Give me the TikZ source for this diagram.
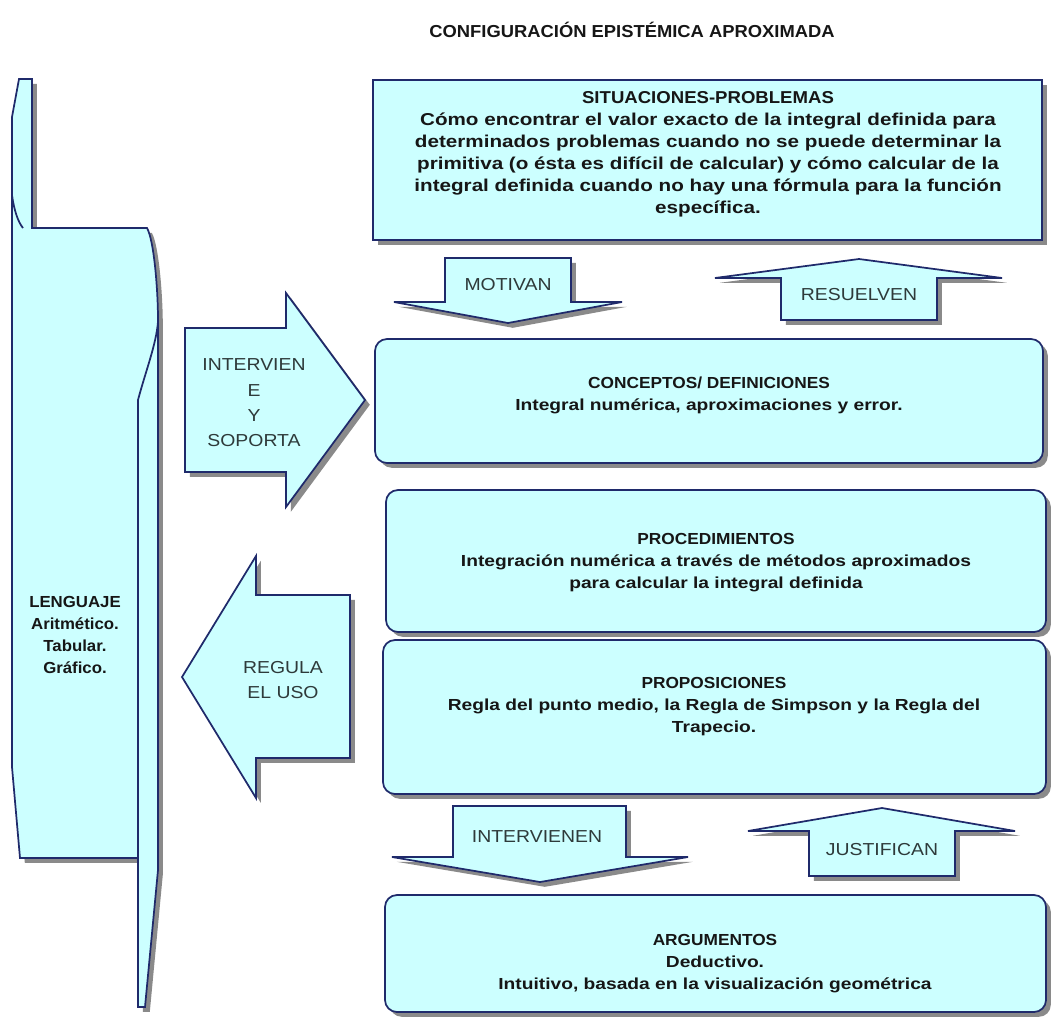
\documentclass[tikz,border=0pt]{standalone}
\usepackage{fontspec}
\setmainfont{Liberation Sans}
\newfontfamily\boxfont[FakeStretch=1.2]{Liberation Sans}
\newfontfamily\headfont[FakeStretch=1.08]{Liberation Sans}
\newfontfamily\sidefont[FakeStretch=1.05]{Liberation Sans}
\newfontfamily\titlefont[FakeStretch=1.06]{Liberation Sans}
\newfontfamily\labelfont[FakeStretch=1.12]{Liberation Sans}
\usetikzlibrary{shadows}

\definecolor{paleaqua}{HTML}{CCFFFF}
\definecolor{navyline}{HTML}{1F2A6B}
\definecolor{shade}{HTML}{8A8A8A}
\definecolor{labeltext}{HTML}{2E3A3A}
\definecolor{bodytext}{HTML}{161616}

% section headings inside the boxes
\newcommand{\boxhead}[1]{{\headfont\bfseries #1}}

\tikzset{
  shaded/.style={drop shadow={shadow xshift=3.6pt, shadow yshift=-3.6pt, fill=shade, opacity=1}},
  shapefill/.style={fill=paleaqua, draw=navyline, line width=1.3pt, line join=miter, shaded},
  sqbox/.style={shapefill, rectangle, inner sep=0pt},
  rbox/.style={shapefill, rectangle, rounded corners=9pt, inner sep=0pt},
  boxtext/.style={align=center, text=bodytext, inner sep=0pt,
    font=\boxfont\bfseries\fontsize{12}{16.5}\selectfont},
  bigboxtext/.style={boxtext, font=\boxfont\bfseries\fontsize{12.9}{16.5}\selectfont},
  sidetext/.style={align=center, text=bodytext, inner sep=0pt,
    font=\sidefont\bfseries\fontsize{12}{16.5}\selectfont},
  arrowtext/.style={align=center, text=labeltext, inner sep=0pt,
    font=\labelfont\fontsize{13}{19}\selectfont},
  titletext/.style={text=bodytext, inner sep=0pt,
    font=\titlefont\bfseries\fontsize{13}{15}\selectfont},
}

\begin{document}
\begin{tikzpicture}[x=0.75pt, y=-0.75pt]
\useasboundingbox (0,0) rectangle (1052,1026);

% title
\node[titletext] (title) at (632,30) {CONFIGURACIÓN EPISTÉMICA APROXIMADA};

% language bracket on the left
\path[shapefill]
  (19,79) -- (32,79) -- (32,228) -- (147,228)
  .. controls (154,240) and (158,290) .. (158,320)
  -- (158,870) -- (145,1007) -- (138,1007) -- (138,858)
  -- (20,858) -- (12,767) -- (12,117) -- cycle;
\draw[navyline, line width=1.3pt]
  (12,195) .. controls (14,210) and (18,222) .. (23,228);
\draw[navyline, line width=1.3pt]
  (158,322) .. controls (156,345) and (146,370) .. (138,400) -- (138,858);
\node[sidetext] (lenguaje) at (75,635) {LENGUAJE\\Aritmético.\\Tabular.\\Gráfico.};

% content boxes
\node[sqbox, minimum width=669*0.75pt, minimum height=160*0.75pt] (sitbox) at (707.5,160) {};
\node[bigboxtext] (sit) at (708,154) {\boxhead{SITUACIONES-PROBLEMAS}\\
  Cómo encontrar el valor exacto de la integral definida para\\
  determinados problemas cuando no se puede determinar la\\
  primitiva (o ésta es difícil de calcular) y cómo calcular de la\\
  integral definida cuando no hay una fórmula para la función\\
  específica.};

\node[rbox, minimum width=668*0.75pt, minimum height=124*0.75pt] (conbox) at (709,401) {};
\node[boxtext] (con) at (709,395) {\boxhead{CONCEPTOS/ DEFINICIONES}\\
  Integral numérica, aproximaciones y error.};

\node[rbox, minimum width=660*0.75pt, minimum height=142*0.75pt] (probox) at (716,561) {};
\node[boxtext] (pro) at (716,563) {\boxhead{PROCEDIMIENTOS}\\
  Integración numérica a través de métodos aproximados\\
  para calcular la integral definida};

\node[rbox, minimum width=663*0.75pt, minimum height=154*0.75pt] (posbox) at (714.5,717) {};
\node[boxtext] (pos) at (714,707) {\boxhead{PROPOSICIONES}\\
  Regla del punto medio, la Regla de Simpson y la Regla del\\
  Trapecio.};

\node[rbox, minimum width=661*0.75pt, minimum height=117*0.75pt] (argbox) at (715.5,953.5) {};
\node[boxtext] (arg) at (715,964) {\boxhead{ARGUMENTOS}\\
  Deductivo.\\
  Intuitivo, basada en la visualización geométrica};

% block arrows
\path[shapefill] (445,258) -- (571,258) -- (571,302) -- (622,302) -- (508,323)
  -- (394,302) -- (445,302) -- cycle;
\node[arrowtext] (motivan) at (508,285) {MOTIVAN};

\path[shapefill] (859,259) -- (1002,278) -- (937,278) -- (937,320) -- (781,320)
  -- (781,278) -- (715,278) -- cycle;
\node[arrowtext] (resuelven) at (859,295) {RESUELVEN};

\path[shapefill] (453,806) -- (626,806) -- (626,857) -- (688,857) -- (540,882)
  -- (392,857) -- (453,857) -- cycle;
\node[arrowtext] (intervienen) at (537,837) {INTERVIENEN};

\path[shapefill] (882,808) -- (1015,831) -- (955,831) -- (955,876) -- (809,876)
  -- (809,831) -- (748,831) -- cycle;
\node[arrowtext] (justifican) at (882,850) {JUSTIFICAN};

\path[shapefill] (185,328) -- (286,328) -- (286,293) -- (365,400) -- (286,507)
  -- (286,472) -- (185,472) -- cycle;
\node[arrowtext] (soporta) at (254,403) {INTERVIEN\\E\\Y\\SOPORTA};

\path[shapefill] (182,677) -- (256,556) -- (256,595) -- (350,595) -- (350,758)
  -- (256,758) -- (256,798) -- cycle;
\node[arrowtext] (regula) at (283,680) {REGULA\\EL USO};
\end{tikzpicture}
\end{document}
